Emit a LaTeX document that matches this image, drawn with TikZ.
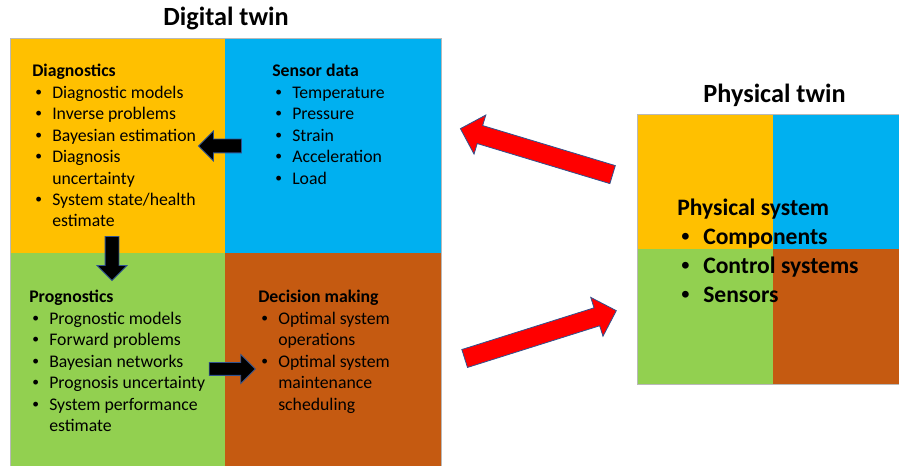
\documentclass[tikz,border=0pt]{standalone}
\usepackage{fontspec}
\setmainfont{Carlito}
\newfontfamily\bulletfont{Liberation Sans}
\usetikzlibrary{positioning,shapes.arrows}
\definecolor{twin-orange}{HTML}{FFC000}
\definecolor{twin-blue}{HTML}{00B0F0}
\definecolor{twin-green}{HTML}{92D050}
\definecolor{twin-brown}{HTML}{C55A11}
\definecolor{arrow-edge}{HTML}{2F528F}
\newcommand{\px}{0.75pt}
\newcommand{\bitem}{\hspace*{2.5pt}\makebox[12.5pt][l]{\bulletfont\textbullet}}
\newcommand{\bcont}{\hspace*{15pt}}
\newcommand{\bigitem}{\hspace*{3pt}\makebox[16.5pt][l]{\bulletfont\textbullet}}
\tikzset{
  quadrant/.style={
    inner sep=0pt,
    outer sep=0pt,
  },
  frame/.style={
    draw=gray!55,
    line width=0.6pt,
  },
  body/.style={
    anchor=north west,
    align=left,
    inner sep=0pt,
    execute at begin node=\strut,
    font=\fontsize{13.3}{16.1}\selectfont,
  },
  big-body/.style={
    body,
    font=\bfseries\fontsize{17.7}{21.75}\selectfont,
  },
  title/.style={
    anchor=base,
    inner sep=0pt,
    font=\bfseries\fontsize{19.7}{24}\selectfont,
  },
  block/.style={
    single arrow,
    inner sep=0pt,
    line width=0.6pt,
    draw=arrow-edge,
  },
  red-block/.style={
    block,
    fill=red,
    inner ysep=9*\px,
    single arrow head extend=11*\px,
    minimum height=159*\px,
  },
  black-block/.style={
    block,
    fill=black,
    inner ysep=6.5*\px,
    single arrow head extend=8*\px,
  }
}
\begin{document}
\begin{tikzpicture}[x=0.75pt,y=0.75pt]
  \useasboundingbox (0,0) rectangle (899,466);

  % Digital twin
  \node [quadrant, anchor=north west, fill=twin-orange,
    minimum width=215*\px, minimum height=215*\px] (diag) at (10,428) {};
  \node [quadrant, right=0pt of diag, fill=twin-blue,
    minimum width=216*\px, minimum height=215*\px] (sensor) {};
  \node [quadrant, below=0pt of diag, fill=twin-green,
    minimum width=215*\px, minimum height=213*\px] (prog) {};
  \node [quadrant, right=0pt of prog, fill=twin-brown,
    minimum width=216*\px, minimum height=213*\px] (decide) {};
  \draw [frame] (diag.north west) rectangle (decide.south east);

  \node [title] (digital-title) at (226,440) {Digital twin};

  \node [body] (diag-text) at ([shift={(22,-26)}]diag.north west)
    {\textbf{Diagnostics}\\
     \bitem Diagnostic models\\
     \bitem Inverse problems\\
     \bitem Bayesian estimation\\
     \bitem Diagnosis\\
     \bcont uncertainty\\
     \bitem System state/health\\
     \bcont estimate};
  \node [body] (sensor-text) at ([shift={(47,-26)}]sensor.north west)
    {\textbf{Sensor data}\\
     \bitem Temperature\\
     \bitem Pressure\\
     \bitem Strain\\
     \bitem Acceleration\\
     \bitem Load};
  \node [body] (prog-text) at ([shift={(19,-37)}]prog.north west)
    {\textbf{Prognostics}\\
     \bitem Prognostic models\\
     \bitem Forward problems\\
     \bitem Bayesian networks\\
     \bitem Prognosis uncertainty\\
     \bitem System performance\\
     \bcont estimate};
  \node [body] (decide-text) at ([shift={(33,-37)}]decide.north west)
    {\textbf{Decision making}\\
     \bitem Optimal system\\
     \bcont operations\\
     \bitem Optimal system\\
     \bcont maintenance\\
     \bcont scheduling};

  % Physical twin
  \node [quadrant, anchor=north west, fill=twin-orange,
    minimum width=136*\px, minimum height=135*\px] (phys-a) at (637,352) {};
  \node [quadrant, right=0pt of phys-a, fill=twin-blue,
    minimum width=126*\px, minimum height=135*\px] (phys-b) {};
  \node [quadrant, below=0pt of phys-a, fill=twin-green,
    minimum width=136*\px, minimum height=135*\px] (phys-c) {};
  \node [quadrant, right=0pt of phys-c, fill=twin-brown,
    minimum width=126*\px, minimum height=135*\px] (phys-d) {};
  \draw [frame] (phys-a.north west) rectangle (phys-d.south east);

  \node [title] (physical-title) at (774.5,363) {Physical twin};

  \node [big-body] (phys-text) at ([shift={(40,-85)}]phys-a.north west)
    {Physical system\\
     \bigitem Components\\
     \bigitem Control systems\\
     \bigitem Sensors};

  % Arrows inside the digital twin
  \node [black-block, minimum height=43*\px, rotate=180] (sense-arrow) at (223.5,320) {};
  \node [black-block, minimum height=44*\px, rotate=-90] (prog-arrow) at (112,211) {};
  \node [black-block, minimum height=46*\px, inner ysep=6*\px] (decide-arrow) at (229,97) {};

  % Arrows between the twins
  \node [red-block, rotate=163.2] (measure-arrow) at (541,313) {};
  \node [red-block, rotate=17.5] (act-arrow) at (536,130) {};
\end{tikzpicture}
\end{document}
